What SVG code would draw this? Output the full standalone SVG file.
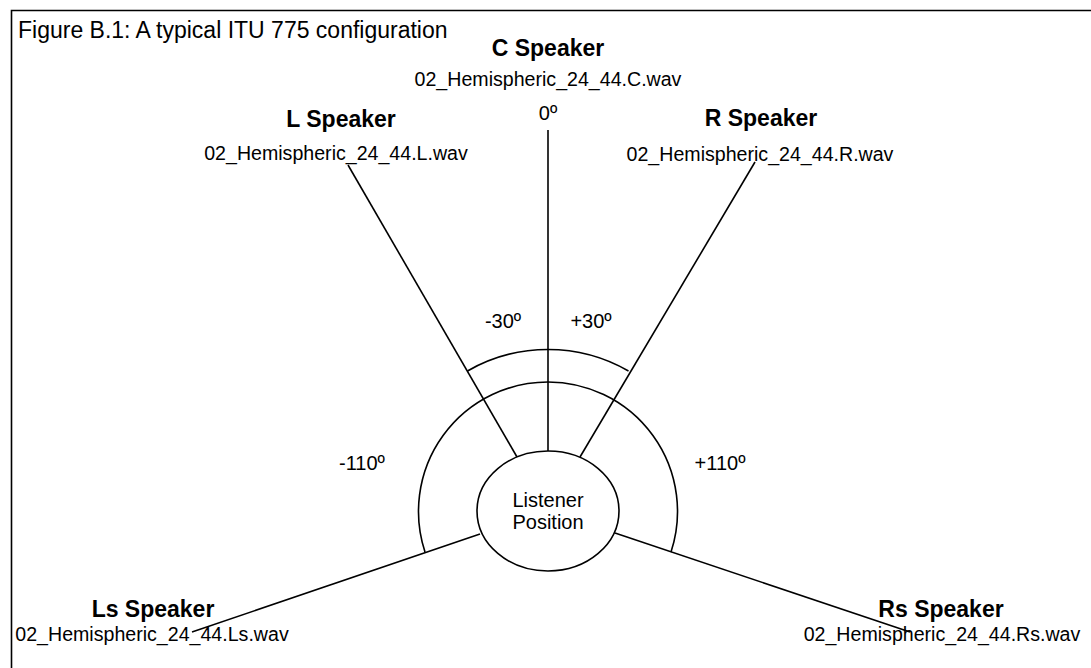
<svg xmlns="http://www.w3.org/2000/svg" width="1091" height="668" viewBox="0 0 1091 668">
<style>
.ln{fill:none;stroke:#000;stroke-width:1.6}
.t{font-family:"Liberation Sans",Arial,sans-serif;font-size:20px;fill:#000;text-anchor:middle}
.f{font-family:"Liberation Sans",Arial,sans-serif;font-size:19.6px;fill:#000;text-anchor:middle}
.b{font-family:"Liberation Sans",Arial,sans-serif;font-size:23px;font-weight:bold;fill:#000;text-anchor:middle}
.title{font-family:"Liberation Sans",Arial,sans-serif;font-size:23px;fill:#000}
</style>
<rect width="1091" height="668" fill="#fff"/>
<g id="frame">
<path class="ln" d="M11.5,668 V10.5 H1091"/>
<text class="title" x="18" y="38">Figure B.1: A typical ITU 775 configuration</text>
</g>
<g id="connectors">
<line class="ln" x1="548" y1="130" x2="548" y2="451"/>
<line class="ln" x1="348" y1="165" x2="517" y2="457"/>
<line class="ln" x1="755" y1="162" x2="580" y2="457"/>
<line class="ln" x1="480" y1="534" x2="192" y2="632"/>
<line class="ln" x1="615" y1="533" x2="910" y2="632"/>
<path class="ln" d="M467.5,371 A161.5,161.5 0 0 1 628.5,371"/>
<path class="ln" d="M425,552 A129.5,129.5 0 1 1 671,552"/>
</g>
<g id="angles">
<text class="t" x="548" y="120">0º</text>
<text class="t" x="503" y="328">-30º</text>
<text class="t" x="591" y="328">+30º</text>
<text class="t" x="362" y="470">-110º</text>
<text class="t" x="720" y="470">+110º</text>
</g>
<g id="listener">
<ellipse class="ln" cx="548" cy="511" rx="71" ry="60" fill="#fff"/>
<text class="t" x="548" y="507">Listener</text>
<text class="t" x="548" y="529">Position</text>
</g>
<g id="c-speaker">
<text class="b" x="548" y="56">C Speaker</text>
<text class="f" x="548" y="86">02_Hemispheric_24_44.C.wav</text>
</g>
<g id="l-speaker">
<text class="b" x="341" y="127">L Speaker</text>
<text class="f" x="336" y="160">02_Hemispheric_24_44.L.wav</text>
</g>
<g id="r-speaker">
<text class="b" x="761" y="126">R Speaker</text>
<text class="f" x="760" y="161">02_Hemispheric_24_44.R.wav</text>
</g>
<g id="ls-speaker">
<text class="b" x="153" y="617">Ls Speaker</text>
<text class="f" x="152" y="641">02_Hemispheric_24_44.Ls.wav</text>
</g>
<g id="rs-speaker">
<text class="b" x="941" y="617">Rs Speaker</text>
<text class="f" x="942" y="641">02_Hemispheric_24_44.Rs.wav</text>
</g>
</svg>
